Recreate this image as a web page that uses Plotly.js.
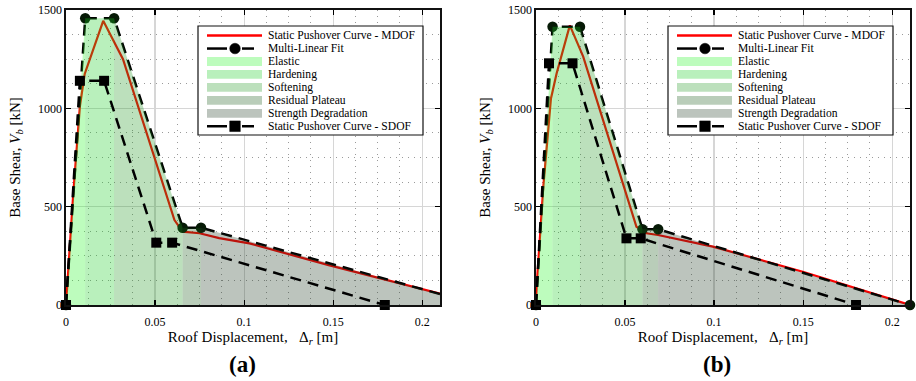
<!DOCTYPE html>
<html><head><meta charset="utf-8">
<script src="https://cdn.plot.ly/plotly-3.0.1.min.js"></script>
<style>html,body{margin:0;padding:0;background:#fff}</style>
</head><body>
<div id="chart" style="width:916px;height:381px"></div>
<script>
// ---------- data ----------
// Panel (a)
const dispA_mdof  = [0, 0.004, 0.0078, 0.0105, 0.0209, 0.032, 0.0609, 0.0655, 0.075, 0.086, 0.103, 0.1475, 0.21];
const shearA_mdof = [0, 555, 1010, 1175, 1445, 1250, 432, 373, 365, 340, 313, 203, 58];
const dispA_fit   = [0, 0.0108, 0.027, 0.0655, 0.0758, 0.232];
const shearA_fit  = [0, 1458, 1458, 393, 393, 0];
const dispA_sdof  = [0, 0.0078, 0.0214, 0.0507, 0.0596, 0.179];
const shearA_sdof = [0, 1140, 1140, 317, 317, 0];
// Panel (b)
const dispB_mdof  = [0, 0.0004, 0.0041, 0.0084, 0.0116, 0.019, 0.0265, 0.0564, 0.062, 0.0685, 0.0993, 0.1498, 0.21];
const shearB_mdof = [0, 100, 600, 1050, 1178, 1422, 1263, 398, 365, 356, 297, 169, 0];
const dispB_fit   = [0, 0.0093, 0.0247, 0.0598, 0.0686, 0.21];
const shearB_fit  = [0, 1415, 1415, 385, 385, 0];
const dispB_sdof  = [0, 0.0073, 0.0205, 0.0508, 0.0588, 0.1797];
const shearB_sdof = [0, 1229, 1229, 339, 339, 0];

const regionNames = ['Elastic', 'Hardening', 'Softening', 'Residual Plateau', 'Strength Degradation'];
const legendLabels = ['Static Pushover Curve - MDOF', 'Multi-Linear Fit'].concat(regionNames, ['Static Pushover Curve - SDOF']);
const panelLabels = ['(a)', '(b)'];
const xTickVals = [0, 0.05, 0.1, 0.15, 0.2];
const xTickText = ['0', '0.05', '0.1', '0.15', '0.2'];
const yTickVals = [0, 500, 1000, 1500];
const yTickText = ['0', '500', '1000', '1500'];

// ---------- styles ----------
const FONT = 'Liberation Serif, Times New Roman, serif';
const regionColors = ['rgba(38,245,38,0.3)', 'rgba(22,205,32,0.3)', 'rgba(32,152,32,0.3)', 'rgba(22,88,22,0.3)', 'rgba(32,58,38,0.3)'];
const XMAX = 0.21;
const DASH = '11px,7px';

function panelTraces(xa, ya, mx, my, fx, fy, sx, sy) {
  const t = [];
  t.push({x: mx, y: my, xaxis: xa, yaxis: ya, type: 'scatter', mode: 'lines',
          line: {color: '#ff0000', width: 2.2}, showlegend: false, hoverinfo: 'skip'});
  t.push({x: fx, y: fy, xaxis: xa, yaxis: ya, type: 'scatter', mode: 'lines',
          line: {color: '#000', width: 2.5, dash: DASH}, showlegend: false, hoverinfo: 'skip'});
  const vx = [], vy = [];
  fx.forEach((v, i) => { if (v <= XMAX + 1e-9) { vx.push(v); vy.push(fy[i]); } });
  t.push({x: vx, y: vy, xaxis: xa, yaxis: ya, type: 'scatter', mode: 'markers', cliponaxis: false,
          marker: {symbol: 'circle', size: 10.5, color: '#061a06'}, showlegend: false, hoverinfo: 'skip'});
  for (let i = 0; i < fx.length - 1; i++) {
    t.push({x: [fx[i], fx[i], fx[i+1], fx[i+1]], y: [0, fy[i], fy[i+1], 0],
            xaxis: xa, yaxis: ya, type: 'scatter', mode: 'lines', fill: 'toself',
            fillcolor: regionColors[i], line: {width: 0}, name: regionNames[i],
            showlegend: false, hoverinfo: 'skip'});
  }
  t.push({x: sx, y: sy, xaxis: xa, yaxis: ya, type: 'scatter', mode: 'lines',
          line: {color: '#000', width: 2.5, dash: DASH}, showlegend: false, hoverinfo: 'skip'});
  t.push({x: sx, y: sy, xaxis: xa, yaxis: ya, type: 'scatter', mode: 'markers', cliponaxis: false,
          marker: {symbol: 'square', size: 10, color: '#000'}, showlegend: false, hoverinfo: 'skip'});
  return t;
}

const data = [].concat(
  panelTraces('x', 'y', dispA_mdof, shearA_mdof, dispA_fit, shearA_fit, dispA_sdof, shearA_sdof),
  panelTraces('x2', 'y2', dispB_mdof, shearB_mdof, dispB_fit, shearB_fit, dispB_sdof, shearB_sdof)
);

function xAxis(domain, anchor) {
  return {
    domain: domain, anchor: anchor, range: [0, XMAX], tickmode: 'array', tickvals: xTickVals, ticktext: xTickText,
    ticks: 'inside', ticklen: 5, tickwidth: 1.2, tickcolor: '#000', ticklabelstandoff: 5,
    showline: true, linecolor: '#111', linewidth: 1.6, mirror: 'ticks',
    showgrid: true, gridcolor: '#d6d6d6', gridwidth: 1.2, zeroline: false,
    minor: {dtick: 0.0125, tick0: 0, showgrid: true, gridcolor: '#9a9a9a', griddash: '1px,5px', gridwidth: 1, ticks: ''},
    tickfont: {family: FONT, size: 12, color: '#000'},
    title: {text: 'Roof Displacement,\u00a0\u00a0\u00a0\u0394<sub><i>r</i></sub> [m]', font: {family: FONT, size: 15, color: '#000'}, standoff: 1},
    automargin: false, fixedrange: true
  };
}
function yAxis(anchor) {
  return {
    domain: [0, 1], anchor: anchor, range: [0, 1500], tickmode: 'array', tickvals: yTickVals, ticktext: yTickText,
    ticks: 'inside', ticklen: 5, tickwidth: 1.2, tickcolor: '#000',
    showline: true, linecolor: '#111', linewidth: 1.6, mirror: 'ticks',
    showgrid: true, gridcolor: '#d6d6d6', gridwidth: 1.2, zeroline: false,
    minor: {dtick: 125, tick0: 0, showgrid: true, gridcolor: '#9a9a9a', griddash: '1px,5px', gridwidth: 1, ticks: ''},
    tickfont: {family: FONT, size: 12, color: '#000'},
    title: {text: 'Base Shear, <i>V</i><sub><i>b</i></sub> [kN]', font: {family: FONT, size: 15, color: '#000'}, standoff: 14},
    automargin: false, fixedrange: true
  };
}

// ---------- custom legend (positions in pixels relative to each plot area) ----------
const PW = 374, PH = 295; // plot area size in px
function dx(px) { return px / PW; }
function dy(py) { return (PH - py) / PH; }
const shapes = [], annotations = [];
function buildLegend(xr, yr) {
  const xref = xr + ' domain', yref = yr + ' domain';
  const L = 132, R = 357, T = 16, B = 125;   // box, px from plot top-left
  shapes.push({type: 'rect', xref, yref, x0: dx(L), x1: dx(R), y0: dy(B), y1: dy(T),
               fillcolor: '#fff', line: {color: '#111', width: 1.2}, layer: 'above'});
  const rowY = i => 25.6 + 12.95 * i;
  const iL = 141, iR = 196, textX = 200;
  legendLabels.forEach((lab, i) => {
    const yc = rowY(i);
    if (i === 0) {
      shapes.push({type: 'line', xref, yref, x0: dx(iL), x1: dx(iR), y0: dy(yc), y1: dy(yc),
                   line: {color: '#ff0000', width: 2.5}, layer: 'above'});
    } else if (i === 1 || i === legendLabels.length - 1) {
      shapes.push({type: 'line', xref, yref, x0: dx(iL), x1: dx(161), y0: dy(yc), y1: dy(yc),
                   line: {color: '#000', width: 2.5}, layer: 'above'});
      shapes.push({type: 'line', xref, yref, x0: dx(176), x1: dx(188), y0: dy(yc), y1: dy(yc),
                   line: {color: '#000', width: 2.5}, layer: 'above'});
      const c = 169, r = 5.3;
      shapes.push({type: i === 1 ? 'circle' : 'rect', xref, yref, x0: dx(c - r), x1: dx(c + r),
                   y0: dy(yc + r), y1: dy(yc - r), fillcolor: '#000', line: {color: '#000', width: 0.5}, layer: 'above'});
    } else {
      shapes.push({type: 'rect', xref, yref, x0: dx(iL), x1: dx(iR), y0: dy(yc + 4.4), y1: dy(yc - 4.4),
                   fillcolor: regionColors[i - 2], line: {width: 0}, layer: 'above'});
    }
    annotations.push({xref, yref, x: dx(textX), y: dy(yc), xanchor: 'left', yanchor: 'middle',
                      text: lab, showarrow: false, font: {family: FONT, size: 11.6, color: '#000'}});
  });
}
buildLegend('x', 'y');
buildLegend('x2', 'y2');

annotations.push({xref: 'x domain', yref: 'y domain', x: dx(176), y: dy(355), xanchor: 'center', yanchor: 'middle',
                  text: '<b>' + panelLabels[0] + '</b>', showarrow: false, font: {family: FONT, size: 23, color: '#000'}});
annotations.push({xref: 'x2 domain', yref: 'y2 domain', x: dx(181), y: dy(355), xanchor: 'center', yanchor: 'middle',
                  text: '<b>' + panelLabels[1] + '</b>', showarrow: false, font: {family: FONT, size: 23, color: '#000'}});

const layout = {
  width: 916, height: 381, autosize: false,
  margin: {l: 66, r: 6, t: 10, b: 76, pad: 0},
  paper_bgcolor: '#fff', plot_bgcolor: '#fff',
  showlegend: false, hovermode: false,
  font: {family: FONT, color: '#000'},
  xaxis: xAxis([0, 374 / 844], 'y'),
  yaxis: yAxis('x'),
  xaxis2: xAxis([470 / 844, 1], 'y2'),
  yaxis2: yAxis('x2'),
  shapes: shapes,
  annotations: annotations
};

Plotly.newPlot('chart', data, layout, {staticPlot: true, displayModeBar: false});
</script>
</body></html>
